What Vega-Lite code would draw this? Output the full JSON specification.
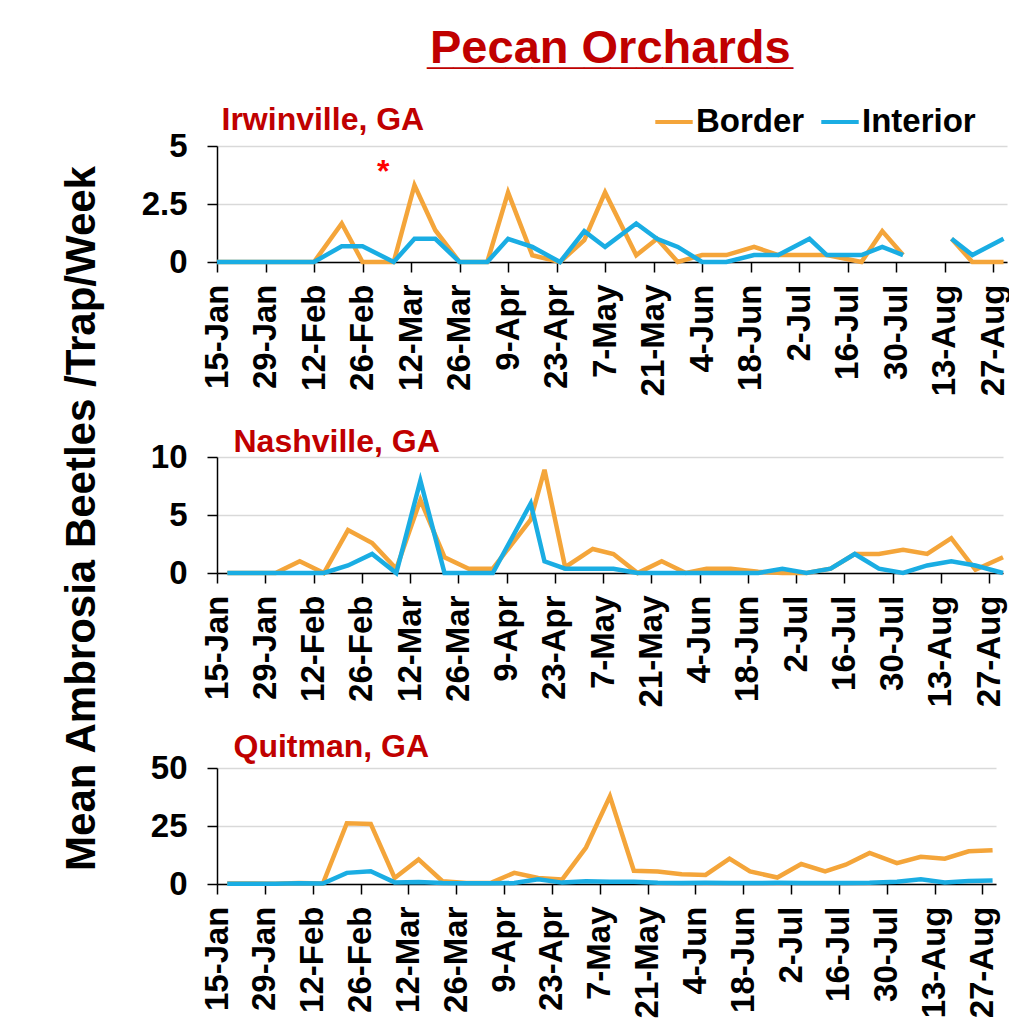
{
  "$schema": "https://vega.github.io/schema/vega-lite/v6.json",
  "background": "white",
  "padding": {"left": 59, "top": 25, "right": 0, "bottom": 0},
  "bounds": "flush",
  "config": {
    "font": "Liberation Sans",
    "view": {"stroke": null},
    "axis": {
      "labelFont": "Liberation Sans",
      "labelFontSize": 33,
      "labelFontWeight": "bold",
      "labelColor": "black",
      "titleFont": "Liberation Sans",
      "titleFontWeight": "bold",
      "tickColor": "black",
      "tickSize": 10,
      "tickWidth": 1.5,
      "domainColor": "black",
      "domainWidth": 1.5,
      "gridColor": "#D9D9D9",
      "gridWidth": 1.5
    }
  },
  "title": {
    "text": "Pecan Orchards",
    "subtitle": "______________",
    "font": "Liberation Sans",
    "fontSize": 47,
    "fontWeight": "bold",
    "color": "#C00000",
    "subtitleFont": "Liberation Sans",
    "subtitleFontSize": 47,
    "subtitleFontWeight": "bold",
    "subtitleColor": "#C00000",
    "subtitlePadding": -47,
    "anchor": "middle",
    "frame": "bounds",
    "dx": 74,
    "offset": 28
  },
  "data": {
    "values": [
      {"site": "Irwinville", "date": "2019-01-15", "type": "Border", "value": 0},
      {"site": "Irwinville", "date": "2019-01-22", "type": "Border", "value": 0},
      {"site": "Irwinville", "date": "2019-01-29", "type": "Border", "value": 0},
      {"site": "Irwinville", "date": "2019-02-05", "type": "Border", "value": 0},
      {"site": "Irwinville", "date": "2019-02-12", "type": "Border", "value": 0},
      {"site": "Irwinville", "date": "2019-02-20", "type": "Border", "value": 1.66},
      {"site": "Irwinville", "date": "2019-02-26", "type": "Border", "value": 0},
      {"site": "Irwinville", "date": "2019-03-07", "type": "Border", "value": 0},
      {"site": "Irwinville", "date": "2019-03-13", "type": "Border", "value": 3.31},
      {"site": "Irwinville", "date": "2019-03-19", "type": "Border", "value": 1.37},
      {"site": "Irwinville", "date": "2019-03-26", "type": "Border", "value": 0},
      {"site": "Irwinville", "date": "2019-04-03", "type": "Border", "value": 0},
      {"site": "Irwinville", "date": "2019-04-09", "type": "Border", "value": 3.0},
      {"site": "Irwinville", "date": "2019-04-16", "type": "Border", "value": 0.29},
      {"site": "Irwinville", "date": "2019-04-24", "type": "Border", "value": 0},
      {"site": "Irwinville", "date": "2019-05-01", "type": "Border", "value": 0.94},
      {"site": "Irwinville", "date": "2019-05-07", "type": "Border", "value": 3.0},
      {"site": "Irwinville", "date": "2019-05-16", "type": "Border", "value": 0.29},
      {"site": "Irwinville", "date": "2019-05-22", "type": "Border", "value": 1.0},
      {"site": "Irwinville", "date": "2019-05-28", "type": "Border", "value": 0},
      {"site": "Irwinville", "date": "2019-06-04", "type": "Border", "value": 0.3},
      {"site": "Irwinville", "date": "2019-06-11", "type": "Border", "value": 0.3},
      {"site": "Irwinville", "date": "2019-06-19", "type": "Border", "value": 0.65},
      {"site": "Irwinville", "date": "2019-06-26", "type": "Border", "value": 0.3},
      {"site": "Irwinville", "date": "2019-07-05", "type": "Border", "value": 0.3},
      {"site": "Irwinville", "date": "2019-07-10", "type": "Border", "value": 0.3},
      {"site": "Irwinville", "date": "2019-07-15", "type": "Border", "value": 0.15},
      {"site": "Irwinville", "date": "2019-07-20", "type": "Border", "value": 0},
      {"site": "Irwinville", "date": "2019-07-26", "type": "Border", "value": 1.33},
      {"site": "Irwinville", "date": "2019-08-01", "type": "Border", "value": 0.3},
      {"site": "Irwinville", "date": "2019-08-08", "type": "Border", "value": null},
      {"site": "Irwinville", "date": "2019-08-15", "type": "Border", "value": 1.0},
      {"site": "Irwinville", "date": "2019-08-21", "type": "Border", "value": 0},
      {"site": "Irwinville", "date": "2019-08-30", "type": "Border", "value": 0},
      {"site": "Irwinville", "date": "2019-01-15", "type": "Interior", "value": 0},
      {"site": "Irwinville", "date": "2019-01-22", "type": "Interior", "value": 0},
      {"site": "Irwinville", "date": "2019-01-29", "type": "Interior", "value": 0},
      {"site": "Irwinville", "date": "2019-02-05", "type": "Interior", "value": 0},
      {"site": "Irwinville", "date": "2019-02-12", "type": "Interior", "value": 0},
      {"site": "Irwinville", "date": "2019-02-20", "type": "Interior", "value": 0.68},
      {"site": "Irwinville", "date": "2019-02-26", "type": "Interior", "value": 0.68},
      {"site": "Irwinville", "date": "2019-03-07", "type": "Interior", "value": 0},
      {"site": "Irwinville", "date": "2019-03-13", "type": "Interior", "value": 1.0},
      {"site": "Irwinville", "date": "2019-03-19", "type": "Interior", "value": 1.0},
      {"site": "Irwinville", "date": "2019-03-26", "type": "Interior", "value": 0},
      {"site": "Irwinville", "date": "2019-04-03", "type": "Interior", "value": 0},
      {"site": "Irwinville", "date": "2019-04-09", "type": "Interior", "value": 1.0},
      {"site": "Irwinville", "date": "2019-04-16", "type": "Interior", "value": 0.65},
      {"site": "Irwinville", "date": "2019-04-24", "type": "Interior", "value": 0},
      {"site": "Irwinville", "date": "2019-05-01", "type": "Interior", "value": 1.33},
      {"site": "Irwinville", "date": "2019-05-07", "type": "Interior", "value": 0.65},
      {"site": "Irwinville", "date": "2019-05-16", "type": "Interior", "value": 1.66},
      {"site": "Irwinville", "date": "2019-05-22", "type": "Interior", "value": 1.0},
      {"site": "Irwinville", "date": "2019-05-28", "type": "Interior", "value": 0.65},
      {"site": "Irwinville", "date": "2019-06-04", "type": "Interior", "value": 0},
      {"site": "Irwinville", "date": "2019-06-11", "type": "Interior", "value": 0},
      {"site": "Irwinville", "date": "2019-06-19", "type": "Interior", "value": 0.3},
      {"site": "Irwinville", "date": "2019-06-26", "type": "Interior", "value": 0.3},
      {"site": "Irwinville", "date": "2019-07-05", "type": "Interior", "value": 1.0},
      {"site": "Irwinville", "date": "2019-07-10", "type": "Interior", "value": 0.3},
      {"site": "Irwinville", "date": "2019-07-15", "type": "Interior", "value": 0.3},
      {"site": "Irwinville", "date": "2019-07-20", "type": "Interior", "value": 0.3},
      {"site": "Irwinville", "date": "2019-07-26", "type": "Interior", "value": 0.65},
      {"site": "Irwinville", "date": "2019-08-01", "type": "Interior", "value": 0.3},
      {"site": "Irwinville", "date": "2019-08-08", "type": "Interior", "value": null},
      {"site": "Irwinville", "date": "2019-08-15", "type": "Interior", "value": 1.0},
      {"site": "Irwinville", "date": "2019-08-21", "type": "Interior", "value": 0.3},
      {"site": "Irwinville", "date": "2019-08-30", "type": "Interior", "value": 1.0},

      {"site": "Nashville", "date": "2019-01-18", "type": "Border", "value": 0},
      {"site": "Nashville", "date": "2019-01-25", "type": "Border", "value": 0},
      {"site": "Nashville", "date": "2019-02-01", "type": "Border", "value": 0},
      {"site": "Nashville", "date": "2019-02-08", "type": "Border", "value": 1.02},
      {"site": "Nashville", "date": "2019-02-15", "type": "Border", "value": 0},
      {"site": "Nashville", "date": "2019-02-22", "type": "Border", "value": 3.7},
      {"site": "Nashville", "date": "2019-03-01", "type": "Border", "value": 2.58},
      {"site": "Nashville", "date": "2019-03-08", "type": "Border", "value": 0.37},
      {"site": "Nashville", "date": "2019-03-15", "type": "Border", "value": 6.3},
      {"site": "Nashville", "date": "2019-03-22", "type": "Border", "value": 1.36},
      {"site": "Nashville", "date": "2019-03-29", "type": "Border", "value": 0.37},
      {"site": "Nashville", "date": "2019-04-05", "type": "Border", "value": 0.37},
      {"site": "Nashville", "date": "2019-04-16", "type": "Border", "value": 4.6},
      {"site": "Nashville", "date": "2019-04-20", "type": "Border", "value": 8.9},
      {"site": "Nashville", "date": "2019-04-26", "type": "Border", "value": 0.5},
      {"site": "Nashville", "date": "2019-05-04", "type": "Border", "value": 2.07},
      {"site": "Nashville", "date": "2019-05-10", "type": "Border", "value": 1.64},
      {"site": "Nashville", "date": "2019-05-17", "type": "Border", "value": 0},
      {"site": "Nashville", "date": "2019-05-24", "type": "Border", "value": 1.02},
      {"site": "Nashville", "date": "2019-05-31", "type": "Border", "value": 0},
      {"site": "Nashville", "date": "2019-06-06", "type": "Border", "value": 0.37},
      {"site": "Nashville", "date": "2019-06-13", "type": "Border", "value": 0.37},
      {"site": "Nashville", "date": "2019-06-21", "type": "Border", "value": 0.1},
      {"site": "Nashville", "date": "2019-06-28", "type": "Border", "value": 0},
      {"site": "Nashville", "date": "2019-07-05", "type": "Border", "value": 0},
      {"site": "Nashville", "date": "2019-07-12", "type": "Border", "value": 0.37},
      {"site": "Nashville", "date": "2019-07-19", "type": "Border", "value": 1.64},
      {"site": "Nashville", "date": "2019-07-26", "type": "Border", "value": 1.64},
      {"site": "Nashville", "date": "2019-08-02", "type": "Border", "value": 2.0},
      {"site": "Nashville", "date": "2019-08-09", "type": "Border", "value": 1.64},
      {"site": "Nashville", "date": "2019-08-16", "type": "Border", "value": 3.0},
      {"site": "Nashville", "date": "2019-08-23", "type": "Border", "value": 0.28},
      {"site": "Nashville", "date": "2019-08-31", "type": "Border", "value": 1.36},
      {"site": "Nashville", "date": "2019-01-18", "type": "Interior", "value": 0},
      {"site": "Nashville", "date": "2019-01-25", "type": "Interior", "value": 0},
      {"site": "Nashville", "date": "2019-02-01", "type": "Interior", "value": 0},
      {"site": "Nashville", "date": "2019-02-08", "type": "Interior", "value": 0},
      {"site": "Nashville", "date": "2019-02-15", "type": "Interior", "value": 0},
      {"site": "Nashville", "date": "2019-02-22", "type": "Interior", "value": 0.65},
      {"site": "Nashville", "date": "2019-03-01", "type": "Interior", "value": 1.64},
      {"site": "Nashville", "date": "2019-03-08", "type": "Interior", "value": 0},
      {"site": "Nashville", "date": "2019-03-15", "type": "Interior", "value": 7.96},
      {"site": "Nashville", "date": "2019-03-22", "type": "Interior", "value": 0},
      {"site": "Nashville", "date": "2019-03-29", "type": "Interior", "value": 0},
      {"site": "Nashville", "date": "2019-04-05", "type": "Interior", "value": 0},
      {"site": "Nashville", "date": "2019-04-16", "type": "Interior", "value": 6.0},
      {"site": "Nashville", "date": "2019-04-20", "type": "Interior", "value": 1.0},
      {"site": "Nashville", "date": "2019-04-26", "type": "Interior", "value": 0.37},
      {"site": "Nashville", "date": "2019-05-04", "type": "Interior", "value": 0.37},
      {"site": "Nashville", "date": "2019-05-10", "type": "Interior", "value": 0.37},
      {"site": "Nashville", "date": "2019-05-17", "type": "Interior", "value": 0},
      {"site": "Nashville", "date": "2019-05-24", "type": "Interior", "value": 0},
      {"site": "Nashville", "date": "2019-05-31", "type": "Interior", "value": 0},
      {"site": "Nashville", "date": "2019-06-06", "type": "Interior", "value": 0},
      {"site": "Nashville", "date": "2019-06-13", "type": "Interior", "value": 0},
      {"site": "Nashville", "date": "2019-06-21", "type": "Interior", "value": 0},
      {"site": "Nashville", "date": "2019-06-28", "type": "Interior", "value": 0.37},
      {"site": "Nashville", "date": "2019-07-05", "type": "Interior", "value": 0},
      {"site": "Nashville", "date": "2019-07-12", "type": "Interior", "value": 0.37},
      {"site": "Nashville", "date": "2019-07-19", "type": "Interior", "value": 1.64},
      {"site": "Nashville", "date": "2019-07-26", "type": "Interior", "value": 0.37},
      {"site": "Nashville", "date": "2019-08-02", "type": "Interior", "value": 0},
      {"site": "Nashville", "date": "2019-08-09", "type": "Interior", "value": 0.65},
      {"site": "Nashville", "date": "2019-08-16", "type": "Interior", "value": 1.0},
      {"site": "Nashville", "date": "2019-08-23", "type": "Interior", "value": 0.65},
      {"site": "Nashville", "date": "2019-08-31", "type": "Interior", "value": 0},

      {"site": "Quitman", "date": "2019-01-18", "type": "Border", "value": 0.2},
      {"site": "Quitman", "date": "2019-01-25", "type": "Border", "value": 0.2},
      {"site": "Quitman", "date": "2019-02-01", "type": "Border", "value": 0.1},
      {"site": "Quitman", "date": "2019-02-08", "type": "Border", "value": 0.4},
      {"site": "Quitman", "date": "2019-02-15", "type": "Border", "value": 0.2},
      {"site": "Quitman", "date": "2019-02-22", "type": "Border", "value": 26.2},
      {"site": "Quitman", "date": "2019-03-01", "type": "Border", "value": 25.9},
      {"site": "Quitman", "date": "2019-03-08", "type": "Border", "value": 2.6},
      {"site": "Quitman", "date": "2019-03-15", "type": "Border", "value": 10.6},
      {"site": "Quitman", "date": "2019-03-22", "type": "Border", "value": 1.2},
      {"site": "Quitman", "date": "2019-03-29", "type": "Border", "value": 0.4},
      {"site": "Quitman", "date": "2019-04-05", "type": "Border", "value": 0.4},
      {"site": "Quitman", "date": "2019-04-12", "type": "Border", "value": 4.8},
      {"site": "Quitman", "date": "2019-04-19", "type": "Border", "value": 2.6},
      {"site": "Quitman", "date": "2019-04-26", "type": "Border", "value": 1.9},
      {"site": "Quitman", "date": "2019-05-03", "type": "Border", "value": 15.7},
      {"site": "Quitman", "date": "2019-05-10", "type": "Border", "value": 37.8},
      {"site": "Quitman", "date": "2019-05-17", "type": "Border", "value": 5.7},
      {"site": "Quitman", "date": "2019-05-24", "type": "Border", "value": 5.4},
      {"site": "Quitman", "date": "2019-05-31", "type": "Border", "value": 4.2},
      {"site": "Quitman", "date": "2019-06-07", "type": "Border", "value": 3.9},
      {"site": "Quitman", "date": "2019-06-14", "type": "Border", "value": 10.9},
      {"site": "Quitman", "date": "2019-06-20", "type": "Border", "value": 5.4},
      {"site": "Quitman", "date": "2019-06-28", "type": "Border", "value": 2.8},
      {"site": "Quitman", "date": "2019-07-05", "type": "Border", "value": 8.6},
      {"site": "Quitman", "date": "2019-07-12", "type": "Border", "value": 5.4},
      {"site": "Quitman", "date": "2019-07-18", "type": "Border", "value": 8.3},
      {"site": "Quitman", "date": "2019-07-25", "type": "Border", "value": 13.4},
      {"site": "Quitman", "date": "2019-08-02", "type": "Border", "value": 9.0},
      {"site": "Quitman", "date": "2019-08-09", "type": "Border", "value": 11.7},
      {"site": "Quitman", "date": "2019-08-16", "type": "Border", "value": 10.9},
      {"site": "Quitman", "date": "2019-08-23", "type": "Border", "value": 14.1},
      {"site": "Quitman", "date": "2019-08-30", "type": "Border", "value": 14.6},
      {"site": "Quitman", "date": "2019-01-18", "type": "Interior", "value": 0.1},
      {"site": "Quitman", "date": "2019-01-25", "type": "Interior", "value": 0.1},
      {"site": "Quitman", "date": "2019-02-01", "type": "Interior", "value": 0.1},
      {"site": "Quitman", "date": "2019-02-08", "type": "Interior", "value": 0.3},
      {"site": "Quitman", "date": "2019-02-15", "type": "Interior", "value": 0.2},
      {"site": "Quitman", "date": "2019-02-22", "type": "Interior", "value": 4.8},
      {"site": "Quitman", "date": "2019-03-01", "type": "Interior", "value": 5.5},
      {"site": "Quitman", "date": "2019-03-08", "type": "Interior", "value": 0.7},
      {"site": "Quitman", "date": "2019-03-15", "type": "Interior", "value": 0.9},
      {"site": "Quitman", "date": "2019-03-22", "type": "Interior", "value": 0.4},
      {"site": "Quitman", "date": "2019-03-29", "type": "Interior", "value": 0.3},
      {"site": "Quitman", "date": "2019-04-05", "type": "Interior", "value": 0.3},
      {"site": "Quitman", "date": "2019-04-12", "type": "Interior", "value": 0.4},
      {"site": "Quitman", "date": "2019-04-19", "type": "Interior", "value": 2.0},
      {"site": "Quitman", "date": "2019-04-26", "type": "Interior", "value": 0.6},
      {"site": "Quitman", "date": "2019-05-03", "type": "Interior", "value": 1.2},
      {"site": "Quitman", "date": "2019-05-10", "type": "Interior", "value": 1.0},
      {"site": "Quitman", "date": "2019-05-17", "type": "Interior", "value": 1.0},
      {"site": "Quitman", "date": "2019-05-24", "type": "Interior", "value": 0.5},
      {"site": "Quitman", "date": "2019-05-31", "type": "Interior", "value": 0.4},
      {"site": "Quitman", "date": "2019-06-07", "type": "Interior", "value": 0.5},
      {"site": "Quitman", "date": "2019-06-14", "type": "Interior", "value": 0.4},
      {"site": "Quitman", "date": "2019-06-20", "type": "Interior", "value": 0.4},
      {"site": "Quitman", "date": "2019-06-28", "type": "Interior", "value": 0.5},
      {"site": "Quitman", "date": "2019-07-05", "type": "Interior", "value": 0.4},
      {"site": "Quitman", "date": "2019-07-12", "type": "Interior", "value": 0.4},
      {"site": "Quitman", "date": "2019-07-18", "type": "Interior", "value": 0.4},
      {"site": "Quitman", "date": "2019-07-25", "type": "Interior", "value": 0.5},
      {"site": "Quitman", "date": "2019-08-02", "type": "Interior", "value": 1.0},
      {"site": "Quitman", "date": "2019-08-09", "type": "Interior", "value": 2.0},
      {"site": "Quitman", "date": "2019-08-16", "type": "Interior", "value": 0.7},
      {"site": "Quitman", "date": "2019-08-23", "type": "Interior", "value": 1.3},
      {"site": "Quitman", "date": "2019-08-30", "type": "Interior", "value": 1.5}
    ]
  },
  "spacing": 195,
  "resolve": {"legend": {"color": "independent"}, "scale": {"x": "independent", "y": "independent"}},
  "vconcat": [
    {
      "width": 790,
      "height": 116,
      "layer": [
        {
          "transform": [{"filter": "datum.site === 'Irwinville'"}],
          "mark": {"type": "line", "strokeWidth": 4.5, "invalid": "break-paths-filter-domains"},
          "encoding": {
            "x": {
              "field": "date", "type": "temporal",
              "scale": {"type": "utc", "domain": [{"year": 2019, "month": 1, "date": 15, "utc": true}, {"year": 2019, "month": 8, "date": 31, "utc": true}]},
              "axis": {
                "title": null, "grid": false, "labelAngle": -90, "labelPadding": 12,
                "labelExpr": "utcFormat(datum.value, '%-d-%b')",
                "labelOverlap": false, "labelFlush": false, "labelBound": false,
                "values": [
                  {"year": 2019, "month": 1, "date": 15, "utc": true}, {"year": 2019, "month": 1, "date": 29, "utc": true},
                  {"year": 2019, "month": 2, "date": 12, "utc": true}, {"year": 2019, "month": 2, "date": 26, "utc": true},
                  {"year": 2019, "month": 3, "date": 12, "utc": true}, {"year": 2019, "month": 3, "date": 26, "utc": true},
                  {"year": 2019, "month": 4, "date": 9, "utc": true}, {"year": 2019, "month": 4, "date": 23, "utc": true},
                  {"year": 2019, "month": 5, "date": 7, "utc": true}, {"year": 2019, "month": 5, "date": 21, "utc": true},
                  {"year": 2019, "month": 6, "date": 4, "utc": true}, {"year": 2019, "month": 6, "date": 18, "utc": true},
                  {"year": 2019, "month": 7, "date": 2, "utc": true}, {"year": 2019, "month": 7, "date": 16, "utc": true},
                  {"year": 2019, "month": 7, "date": 30, "utc": true}, {"year": 2019, "month": 8, "date": 13, "utc": true},
                  {"year": 2019, "month": 8, "date": 27, "utc": true}
                ]
              }
            },
            "y": {
              "field": "value", "type": "quantitative",
              "scale": {"domain": [0, 5]},
              "axis": {
                "values": [0, 2.5, 5], "format": ".2~g", "labelPadding": 20, "grid": true,
                "title": "Irwinville, GA", "titleX": 4, "titleY": -17, "titleAngle": 0, "titleAlign": "left", "titleBaseline": "alphabetic",
                "titleFontSize": 32, "titleColor": "#C00000"
              }
            },
            "color": {
              "field": "type", "type": "nominal",
              "scale": {"domain": ["Border", "Interior"], "range": ["#F4A53A", "#1AADE3"]},
              "legend": {
                "title": null, "orient": "none", "legendX": 436, "legendY": -45, "direction": "horizontal",
                "symbolType": "stroke", "symbolSize": 1400, "symbolStrokeWidth": 4,
                "labelFont": "Liberation Sans", "labelFontSize": 33, "labelFontWeight": "bold", "labelColor": "black",
                "labelOffset": 1, "columnPadding": 8, "padding": 0
              }
            }
          }
        },
        {
          "data": {"values": [{}]},
          "mark": {"type": "text", "text": "*", "color": "#FF0000", "fontSize": 32, "fontWeight": "bold", "font": "Liberation Sans"},
          "encoding": {
            "x": {"datum": {"year": 2019, "month": 3, "date": 4, "utc": true}, "type": "temporal"},
            "y": {"datum": 3.9, "type": "quantitative"}
          }
        }
      ]
    },
    {
      "width": 786,
      "height": 116,
      "transform": [{"filter": "datum.site === 'Nashville'"}],
      "mark": {"type": "line", "strokeWidth": 4.5},
      "encoding": {
        "x": {
          "field": "date", "type": "temporal",
          "scale": {"type": "utc", "domain": [{"year": 2019, "month": 1, "date": 15, "utc": true}, {"year": 2019, "month": 8, "date": 31, "utc": true}]},
          "axis": {
            "grid": false, "labelAngle": -90, "labelPadding": 12,
            "labelExpr": "utcFormat(datum.value, '%-d-%b')",
            "labelOverlap": false, "labelFlush": false, "labelBound": false,
            "title": "Mean Ambrosia Beetles /Trap/Week", "titleX": -136, "titleY": -55, "titleAngle": -90, "titleAlign": "center", "titleBaseline": "middle",
            "titleFontSize": 42, "titleColor": "black",
            "values": [
              {"year": 2019, "month": 1, "date": 15, "utc": true}, {"year": 2019, "month": 1, "date": 29, "utc": true},
              {"year": 2019, "month": 2, "date": 12, "utc": true}, {"year": 2019, "month": 2, "date": 26, "utc": true},
              {"year": 2019, "month": 3, "date": 12, "utc": true}, {"year": 2019, "month": 3, "date": 26, "utc": true},
              {"year": 2019, "month": 4, "date": 9, "utc": true}, {"year": 2019, "month": 4, "date": 23, "utc": true},
              {"year": 2019, "month": 5, "date": 7, "utc": true}, {"year": 2019, "month": 5, "date": 21, "utc": true},
              {"year": 2019, "month": 6, "date": 4, "utc": true}, {"year": 2019, "month": 6, "date": 18, "utc": true},
              {"year": 2019, "month": 7, "date": 2, "utc": true}, {"year": 2019, "month": 7, "date": 16, "utc": true},
              {"year": 2019, "month": 7, "date": 30, "utc": true}, {"year": 2019, "month": 8, "date": 13, "utc": true},
              {"year": 2019, "month": 8, "date": 27, "utc": true}
            ]
          }
        },
        "y": {
          "field": "value", "type": "quantitative",
          "scale": {"domain": [0, 10]},
          "axis": {
            "values": [0, 5, 10], "format": ".2~g", "labelPadding": 20, "grid": true,
            "title": "Nashville, GA", "titleX": 16, "titleY": -6, "titleAngle": 0, "titleAlign": "left", "titleBaseline": "alphabetic",
            "titleFontSize": 32, "titleColor": "#C00000"
          }
        },
        "color": {
          "field": "type", "type": "nominal",
          "scale": {"domain": ["Border", "Interior"], "range": ["#F4A53A", "#1AADE3"]},
          "legend": null
        }
      }
    },
    {
      "width": 779,
      "height": 116,
      "transform": [{"filter": "datum.site === 'Quitman'"}],
      "mark": {"type": "line", "strokeWidth": 4.5},
      "encoding": {
        "x": {
          "field": "date", "type": "temporal",
          "scale": {"type": "utc", "domain": [{"year": 2019, "month": 1, "date": 15, "utc": true}, {"year": 2019, "month": 8, "date": 31, "utc": true}]},
          "axis": {
            "title": null, "grid": false, "labelAngle": -90, "labelPadding": 12,
            "labelExpr": "utcFormat(datum.value, '%-d-%b')",
            "labelOverlap": false, "labelFlush": false, "labelBound": false,
            "values": [
              {"year": 2019, "month": 1, "date": 15, "utc": true}, {"year": 2019, "month": 1, "date": 29, "utc": true},
              {"year": 2019, "month": 2, "date": 12, "utc": true}, {"year": 2019, "month": 2, "date": 26, "utc": true},
              {"year": 2019, "month": 3, "date": 12, "utc": true}, {"year": 2019, "month": 3, "date": 26, "utc": true},
              {"year": 2019, "month": 4, "date": 9, "utc": true}, {"year": 2019, "month": 4, "date": 23, "utc": true},
              {"year": 2019, "month": 5, "date": 7, "utc": true}, {"year": 2019, "month": 5, "date": 21, "utc": true},
              {"year": 2019, "month": 6, "date": 4, "utc": true}, {"year": 2019, "month": 6, "date": 18, "utc": true},
              {"year": 2019, "month": 7, "date": 2, "utc": true}, {"year": 2019, "month": 7, "date": 16, "utc": true},
              {"year": 2019, "month": 7, "date": 30, "utc": true}, {"year": 2019, "month": 8, "date": 13, "utc": true},
              {"year": 2019, "month": 8, "date": 27, "utc": true}
            ]
          }
        },
        "y": {
          "field": "value", "type": "quantitative",
          "scale": {"domain": [0, 50]},
          "axis": {
            "values": [0, 25, 50], "format": ".2~g", "labelPadding": 20, "grid": true,
            "title": "Quitman, GA", "titleX": 16, "titleY": -12, "titleAngle": 0, "titleAlign": "left", "titleBaseline": "alphabetic",
            "titleFontSize": 32, "titleColor": "#C00000"
          }
        },
        "color": {
          "field": "type", "type": "nominal",
          "scale": {"domain": ["Border", "Interior"], "range": ["#F4A53A", "#1AADE3"]},
          "legend": null
        }
      }
    }
  ]
}
